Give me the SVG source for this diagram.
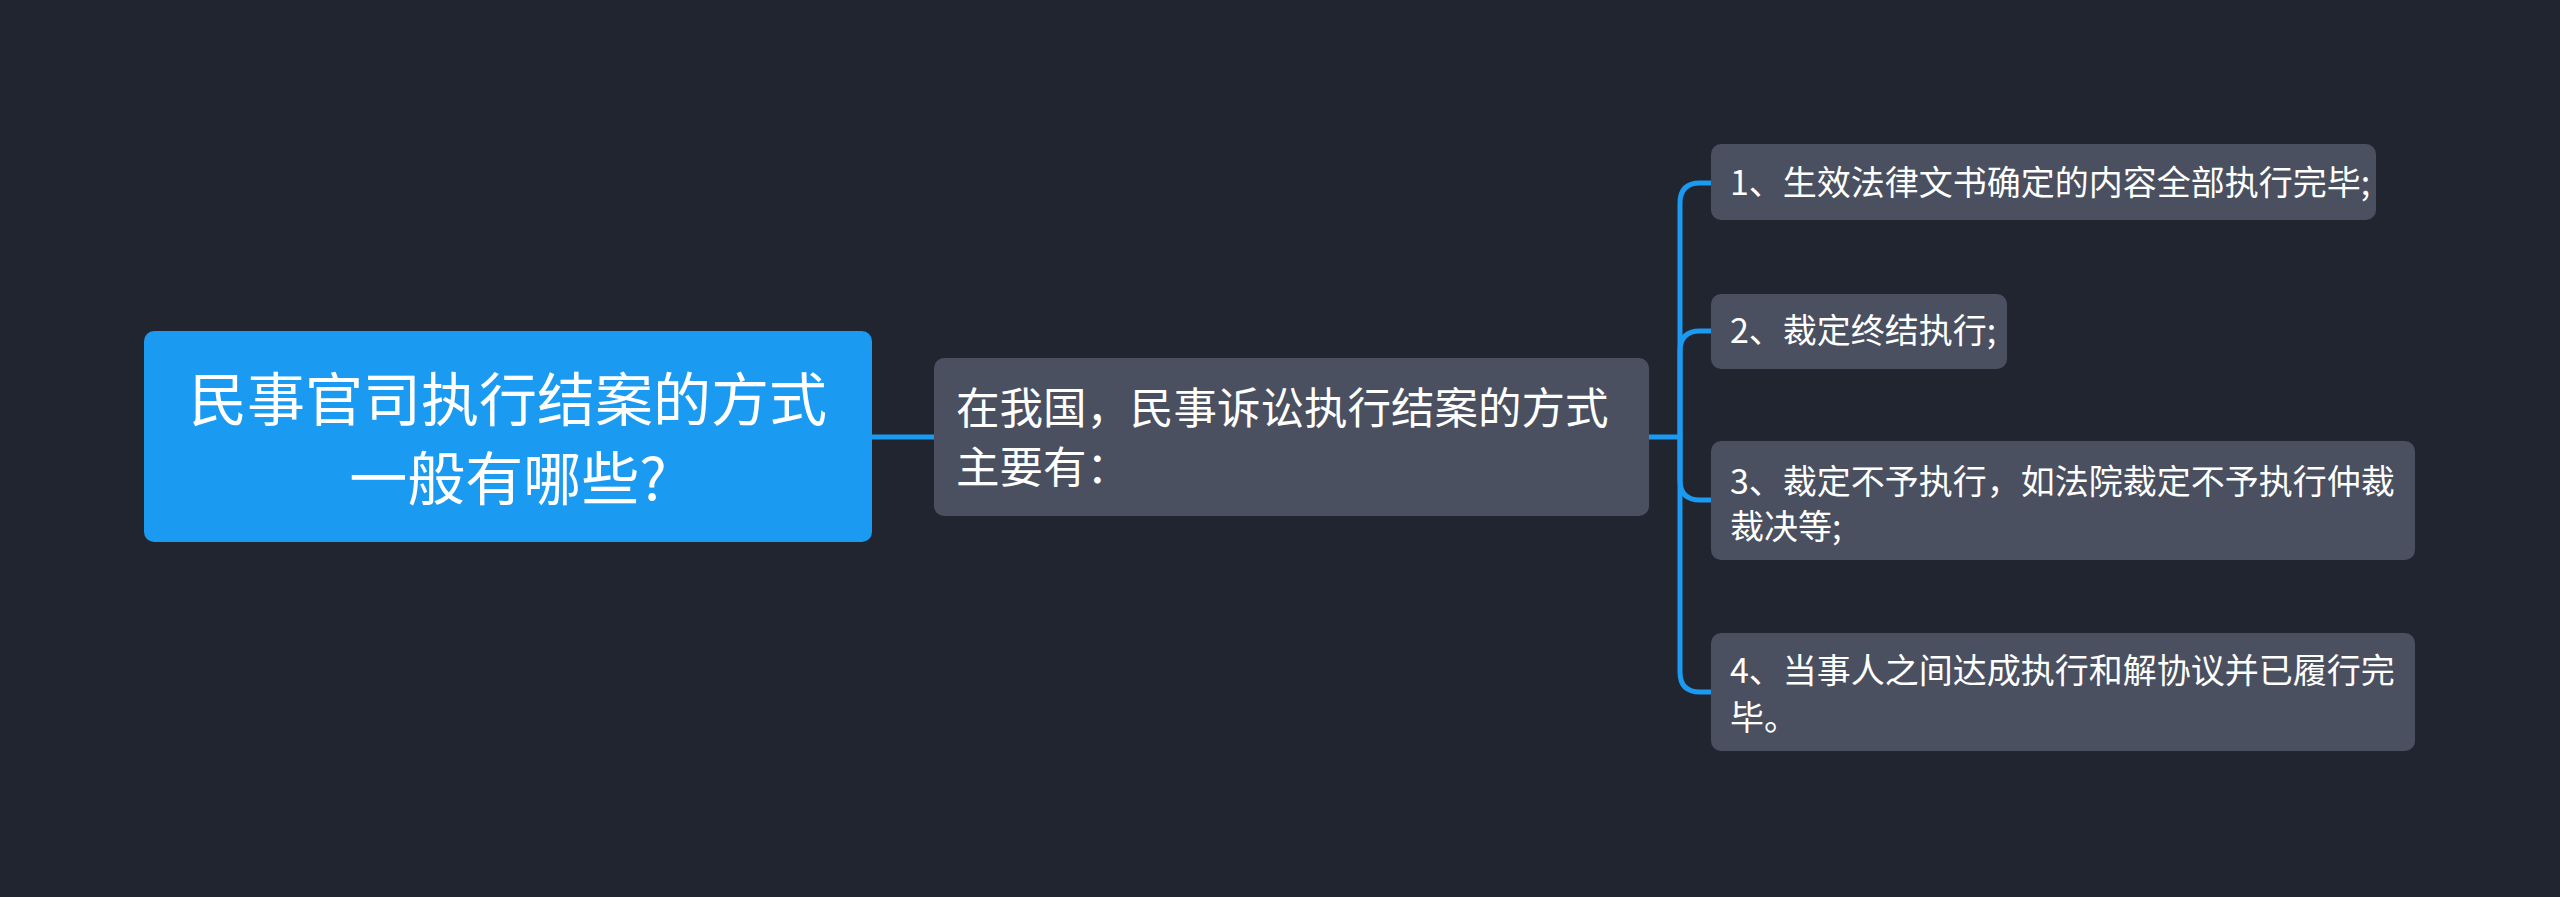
<svg xmlns="http://www.w3.org/2000/svg" width="2560" height="897" viewBox="0 0 2560 897">
<style>
.bg{fill:#21252f}
.root{fill:#1a9af0}
.node{fill:#4a5060}
.t{fill:#ffffff;font-family:"Noto Sans CJK SC","Noto Sans",sans-serif}
.rt{font-size:58px}
.mt{font-size:43.5px}
.lt{font-size:34px}
.edge{fill:none;stroke:#1a9af0;stroke-width:5;stroke-linecap:round}
</style>
<rect class="bg" x="0" y="0" width="2560" height="897"/>
<g id="connectors">
<path class="edge" d="M872 437 H934"/>
<path class="edge" d="M1649 437 H1680"/>
<path class="edge" d="M1711 183 H1700 Q1680 183 1680 203 V672 Q1680 692 1700 692 H1711"/>
<path class="edge" d="M1711 331 H1700 Q1680 331 1680 351 V480 Q1680 500 1700 500 H1711"/>
</g>
<g id="root">
<rect class="root" x="144" y="331" width="728" height="211" rx="10"/>
<text class="t rt" x="508" y="421" text-anchor="middle">民事官司执行结案的方式</text>
<text class="t rt" x="508" y="500" text-anchor="middle">一般有哪些?</text>
</g>
<g id="middle">
<rect class="node" x="934" y="358" width="715" height="158" rx="10"/>
<text class="t mt" x="956" y="424">在我国，民事诉讼执行结案的方式</text>
<text class="t mt" x="956" y="483">主要有：</text>
</g>
<g id="leaf1">
<rect class="node" x="1711" y="144" width="665" height="76" rx="10"/>
<text class="t lt" x="1730" y="195">1、生效法律文书确定的内容全部执行完毕;</text>
</g>
<g id="leaf2">
<rect class="node" x="1711" y="294" width="296" height="75" rx="10"/>
<text class="t lt" x="1730" y="343">2、裁定终结执行;</text>
</g>
<g id="leaf3">
<rect class="node" x="1711" y="441" width="704" height="119" rx="10"/>
<text class="t lt" x="1730" y="494">3、裁定不予执行，如法院裁定不予执行仲裁</text>
<text class="t lt" x="1730" y="539">裁决等;</text>
</g>
<g id="leaf4">
<rect class="node" x="1711" y="633" width="704" height="118" rx="10"/>
<text class="t lt" x="1730" y="683">4、当事人之间达成执行和解协议并已履行完</text>
<text class="t lt" x="1730" y="730">毕。</text>
</g>
</svg>
